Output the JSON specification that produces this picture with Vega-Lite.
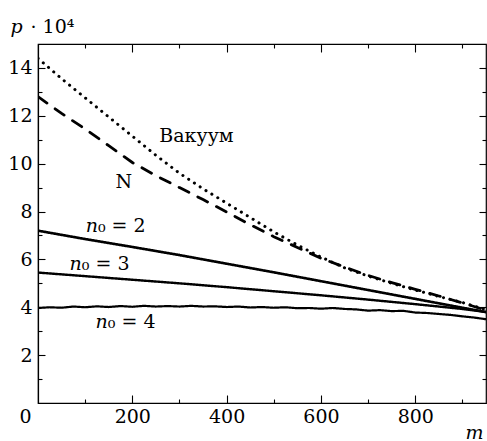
{
  "$schema": "https://vega.github.io/schema/vega-lite/v6.json",
  "width": 448,
  "height": 359,
  "autosize": "none",
  "padding": {"left": 38, "top": 44, "right": 1, "bottom": 38},
  "background": "white",
  "config": {
    "view": {"stroke": "black", "strokeWidth": 1.2},
    "axis": {
      "labelFont": "DejaVu Serif",
      "labelFontSize": 19,
      "labelColor": "black",
      "titleFont": "DejaVu Serif",
      "titleFontSize": 19,
      "titleColor": "black",
      "titleFontWeight": "normal",
      "domainColor": "black",
      "domainWidth": 1.2,
      "tickColor": "black",
      "tickWidth": 1.1,
      "zindex": 1,
      "grid": false
    },
    "text": {"font": "DejaVu Serif", "fontSize": 19, "color": "black"}
  },
  "datasets": {
    "curves": [
      {"s": "vac", "m": 0, "p": 14.4}, {"s": "vac", "m": 50, "p": 13.55}, {"s": "vac", "m": 100, "p": 12.75}, {"s": "vac", "m": 150, "p": 11.95}, {"s": "vac", "m": 200, "p": 11.15}, {"s": "vac", "m": 250, "p": 10.35}, {"s": "vac", "m": 300, "p": 9.6}, {"s": "vac", "m": 350, "p": 8.95}, {"s": "vac", "m": 400, "p": 8.35}, {"s": "vac", "m": 450, "p": 7.75}, {"s": "vac", "m": 500, "p": 7.15}, {"s": "vac", "m": 550, "p": 6.6}, {"s": "vac", "m": 600, "p": 6.1}, {"s": "vac", "m": 650, "p": 5.65}, {"s": "vac", "m": 700, "p": 5.3}, {"s": "vac", "m": 750, "p": 5.0}, {"s": "vac", "m": 800, "p": 4.72}, {"s": "vac", "m": 850, "p": 4.45}, {"s": "vac", "m": 900, "p": 4.2}, {"s": "vac", "m": 950, "p": 3.9},
      {"s": "N", "m": 0, "p": 12.8}, {"s": "N", "m": 50, "p": 12.1}, {"s": "N", "m": 100, "p": 11.45}, {"s": "N", "m": 150, "p": 10.75}, {"s": "N", "m": 200, "p": 10.05}, {"s": "N", "m": 250, "p": 9.5}, {"s": "N", "m": 300, "p": 9.0}, {"s": "N", "m": 350, "p": 8.5}, {"s": "N", "m": 400, "p": 7.98}, {"s": "N", "m": 450, "p": 7.45}, {"s": "N", "m": 500, "p": 6.95}, {"s": "N", "m": 550, "p": 6.5}, {"s": "N", "m": 600, "p": 6.05}, {"s": "N", "m": 650, "p": 5.68}, {"s": "N", "m": 700, "p": 5.33}, {"s": "N", "m": 750, "p": 5.03}, {"s": "N", "m": 800, "p": 4.75}, {"s": "N", "m": 850, "p": 4.47}, {"s": "N", "m": 900, "p": 4.18}, {"s": "N", "m": 950, "p": 3.88},
      {"s": "n2", "m": 0, "p": 7.2}, {"s": "n2", "m": 100, "p": 6.85}, {"s": "n2", "m": 200, "p": 6.52}, {"s": "n2", "m": 300, "p": 6.18}, {"s": "n2", "m": 400, "p": 5.82}, {"s": "n2", "m": 500, "p": 5.46}, {"s": "n2", "m": 600, "p": 5.09}, {"s": "n2", "m": 700, "p": 4.72}, {"s": "n2", "m": 800, "p": 4.35}, {"s": "n2", "m": 900, "p": 3.98}, {"s": "n2", "m": 950, "p": 3.8},
      {"s": "n3", "m": 0, "p": 5.45}, {"s": "n3", "m": 100, "p": 5.3}, {"s": "n3", "m": 200, "p": 5.15}, {"s": "n3", "m": 300, "p": 5.0}, {"s": "n3", "m": 400, "p": 4.84}, {"s": "n3", "m": 500, "p": 4.67}, {"s": "n3", "m": 600, "p": 4.5}, {"s": "n3", "m": 700, "p": 4.32}, {"s": "n3", "m": 800, "p": 4.13}, {"s": "n3", "m": 900, "p": 3.93}, {"s": "n3", "m": 950, "p": 3.8},
      {"s": "n4", "m": 0, "p": 3.97}, {"s": "n4", "m": 25, "p": 4.0}, {"s": "n4", "m": 50, "p": 3.98}, {"s": "n4", "m": 75, "p": 4.03}, {"s": "n4", "m": 100, "p": 4.0}, {"s": "n4", "m": 125, "p": 4.04}, {"s": "n4", "m": 150, "p": 4.01}, {"s": "n4", "m": 175, "p": 4.05}, {"s": "n4", "m": 200, "p": 4.02}, {"s": "n4", "m": 225, "p": 4.06}, {"s": "n4", "m": 250, "p": 4.03}, {"s": "n4", "m": 275, "p": 4.05}, {"s": "n4", "m": 300, "p": 4.03}, {"s": "n4", "m": 325, "p": 4.06}, {"s": "n4", "m": 350, "p": 4.03}, {"s": "n4", "m": 375, "p": 4.04}, {"s": "n4", "m": 400, "p": 4.01}, {"s": "n4", "m": 425, "p": 4.03}, {"s": "n4", "m": 450, "p": 3.99}, {"s": "n4", "m": 475, "p": 4.01}, {"s": "n4", "m": 500, "p": 3.98}, {"s": "n4", "m": 525, "p": 4.0}, {"s": "n4", "m": 550, "p": 3.96}, {"s": "n4", "m": 575, "p": 3.97}, {"s": "n4", "m": 600, "p": 3.94}, {"s": "n4", "m": 625, "p": 3.97}, {"s": "n4", "m": 650, "p": 3.93}, {"s": "n4", "m": 675, "p": 3.91}, {"s": "n4", "m": 700, "p": 3.86}, {"s": "n4", "m": 725, "p": 3.88}, {"s": "n4", "m": 750, "p": 3.84}, {"s": "n4", "m": 775, "p": 3.85}, {"s": "n4", "m": 800, "p": 3.78}, {"s": "n4", "m": 825, "p": 3.76}, {"s": "n4", "m": 850, "p": 3.72}, {"s": "n4", "m": 875, "p": 3.68}, {"s": "n4", "m": 900, "p": 3.62}, {"s": "n4", "m": 925, "p": 3.57}, {"s": "n4", "m": 950, "p": 3.5}
    ],
    "words": [
      {"m": 336, "p": 10.9, "t": "Вакуум"},
      {"m": 182, "p": 8.98, "t": "N"}
    ],
    "nlabels": [
      {"m": 127, "p": 7.15, "rest": "₀ = 2"},
      {"m": 93, "p": 5.56, "rest": "₀ = 3"},
      {"m": 148, "p": 3.13, "rest": "₀ = 4"}
    ]
  },
  "resolve": {"axis": {"x": "independent", "y": "independent"}},
  "layer": [
    {
      "data": {"name": "curves"},
      "mark": {"type": "line", "strokeCap": "round", "color": "black", "clip": true},
      "encoding": {
        "x": {
          "field": "m", "type": "quantitative",
          "scale": {"domain": [0, 950], "nice": false, "zero": false},
          "axis": {
            "orient": "bottom", "title": "m", "titleFontStyle": "italic",
            "titleX": 427, "titleY": 35, "titleAlign": "left", "titleBaseline": "alphabetic",
            "values": [0, 200, 400, 600, 800],
            "labelOffset": {"condition": {"test": "datum.value === 0", "value": -13}, "value": 0},
            "ticks": false,
            "labelPadding": 4,
            "labelFlush": false
          }
        },
        "y": {
          "field": "p", "type": "quantitative",
          "scale": {"domain": [0, 15], "nice": false, "zero": false},
          "axis": {
            "orient": "left", "title": "p", "titleFontStyle": "italic",
            "titleAngle": 0, "titleX": -28, "titleY": -12, "titleAlign": "left", "titleBaseline": "alphabetic",
            "values": [2, 4, 6, 8, 10, 12, 14],
            "ticks": false,
            "labelPadding": 6,
            "labelFlush": false
          }
        },
        "detail": {"field": "s"},
        "strokeWidth": {
          "field": "s", "type": "nominal", "legend": null,
          "scale": {"domain": ["vac", "N", "n2", "n3", "n4"], "range": [3, 2.2, 2, 2, 2]}
        },
        "strokeDash": {
          "field": "s", "type": "nominal", "legend": null,
          "scale": {"domain": ["vac", "N", "n2", "n3", "n4"], "range": [[0.1, 6.8], [11, 10], [1, 0], [1, 0], [1, 0]]}
        }
      }
    },
    {
      "data": {"name": "words"},
      "mark": {"type": "text", "baseline": "alphabetic", "align": "center"},
      "encoding": {
        "x": {
          "field": "m", "type": "quantitative",
          "axis": {"orient": "bottom", "title": null, "labels": false, "domain": false,
            "values": [200, 400, 600, 800], "tickSize": 8, "offset": -8}
        },
        "y": {
          "field": "p", "type": "quantitative",
          "axis": {"orient": "left", "title": null, "labels": false, "domain": false,
            "values": [2, 4, 6, 8, 10, 12, 14], "tickSize": 7, "offset": -7}
        },
        "text": {"field": "t"}
      }
    },
    {
      "data": {"name": "nlabels"},
      "mark": {"type": "text", "baseline": "alphabetic", "align": "right", "fontStyle": "italic", "text": "n"},
      "encoding": {
        "x": {
          "field": "m", "type": "quantitative",
          "axis": {"orient": "bottom", "title": null, "labels": false, "domain": false,
            "values": [100, 300, 500, 700, 900], "tickSize": 4, "offset": -4}
        },
        "y": {
          "field": "p", "type": "quantitative",
          "axis": {"orient": "left", "title": null, "labels": false, "domain": false,
            "values": [1, 3, 5, 7, 9, 11, 13], "tickSize": 4, "offset": -4}
        }
      }
    },
    {
      "data": {"name": "nlabels"},
      "mark": {"type": "text", "baseline": "alphabetic", "align": "left"},
      "encoding": {
        "x": {
          "field": "m", "type": "quantitative",
          "axis": {"orient": "top", "title": null, "labels": false, "domain": false,
            "values": [200, 400, 600, 800], "tickSize": 8, "offset": -8}
        },
        "y": {
          "field": "p", "type": "quantitative",
          "axis": {"orient": "right", "labels": false, "title": "· 10⁴",
            "titleAngle": 0, "titleX": -449, "titleY": -12, "titleAlign": "left", "titleBaseline": "alphabetic",
            "domain": false,
            "values": [2, 4, 6, 8, 10, 12, 14], "tickSize": 7, "offset": -7}
        },
        "text": {"field": "rest"}
      }
    },
    {
      "data": {"name": "words"},
      "mark": {"type": "point", "opacity": 0},
      "encoding": {
        "x": {
          "field": "m", "type": "quantitative",
          "axis": {"orient": "top", "title": null, "labels": false, "domain": false,
            "values": [100, 300, 500, 700, 900], "tickSize": 4, "offset": -4}
        },
        "y": {
          "field": "p", "type": "quantitative",
          "axis": {"orient": "right", "title": null, "labels": false, "domain": false,
            "values": [1, 3, 5, 7, 9, 11, 13], "tickSize": 4, "offset": -4}
        }
      }
    }
  ]
}
